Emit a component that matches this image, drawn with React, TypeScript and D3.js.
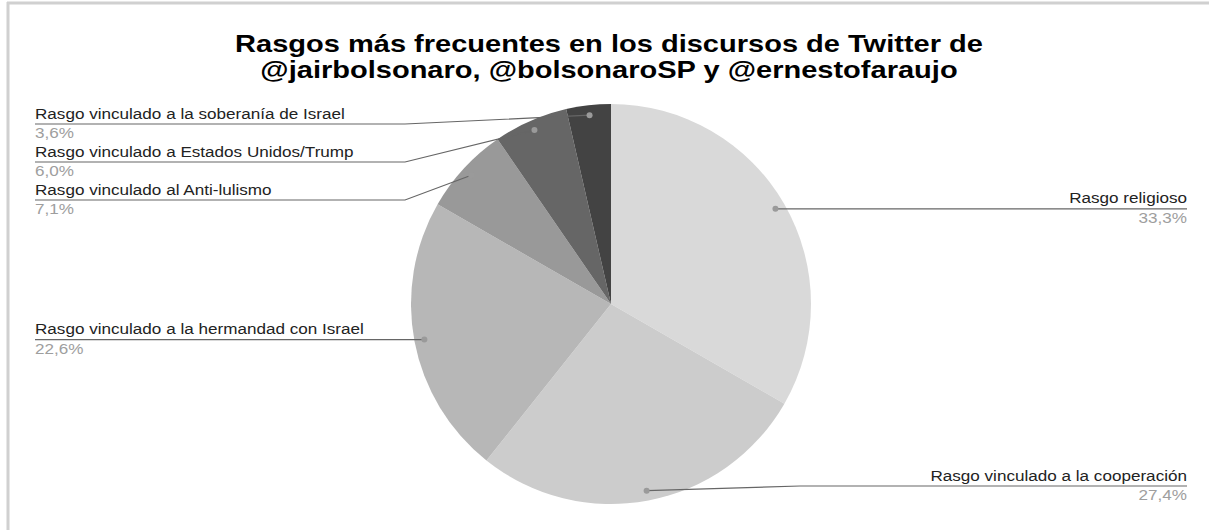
import React from 'react';
import * as d3 from 'd3';

const categories = [
  'Rasgo religioso',
  'Rasgo vinculado a la cooperación',
  'Rasgo vinculado a la hermandad con Israel',
  'Rasgo vinculado al Anti-lulismo',
  'Rasgo vinculado a Estados Unidos/Trump',
  'Rasgo vinculado a la soberanía de Israel',
];
const values = [33.3, 27.4, 22.6, 7.1, 6.0, 3.6];
const percentLabels = ['33,3%', '27,4%', '22,6%', '7,1%', '6,0%', '3,6%'];
const sliceColors = ['#d9d9d9', '#cccccc', '#b7b7b7', '#999999', '#666666', '#434343'];
const titleLines = [
  'Rasgos más frecuentes en los discursos de Twitter de',
  '@jairbolsonaro, @bolsonaroSP y @ernestofaraujo',
];
// layout: y of each label's underline (null = follow the dot)
const labelLineY: (number | null)[] = [null, 486, null, 200, 162, 124];

const W = 1209;
const H = 530;
const cx = 611;
const cy = 304;
const radius = 200;
const dotR = 190;
const leftX = 35;
const rightX = 1187;
const leftElbow = 405;
const rightElbow = 800;
const sx = 1.14;
const font = "'Liberation Sans', Arial, sans-serif";

export default function App() {
  const pie = d3.pie<number>().sort(null).value((d) => d);
  const arcs = pie(values);
  const arcGen = d3.arc<d3.PieArcDatum<number>>().innerRadius(0).outerRadius(radius);

  return (
    <svg
      width={W}
      height={H}
      style={{ position: 'absolute', left: 0, top: 0, background: '#fff' }}
      fontFamily={font}
    >
      <rect x={0} y={0} width={W} height={H} fill="#fff" />
      {/* frame */}
      <line x1={7} x2={W} y1={3} y2={3} stroke="#d0d0d0" strokeWidth={3} />
      <line x1={8} x2={8} y1={2} y2={H} stroke="#d0d0d0" strokeWidth={3} />

      {titleLines.map((t, i) => (
        <text
          key={i}
          transform={`translate(${609},${52 + i * 26}) scale(1.21,1)`}
          textAnchor="middle"
          fontSize={24}
          fontWeight="bold"
          fill="#000"
        >
          {t}
        </text>
      ))}

      <g transform={`translate(${cx},${cy})`}>
        {arcs.map((a, i) => (
          <path key={i} d={arcGen(a) || ''} fill={sliceColors[i]} />
        ))}
      </g>

      {arcs.map((a, i) => {
        const mid = (a.startAngle + a.endAngle) / 2;
        const dx = cx + dotR * Math.sin(mid);
        const dy = cy - dotR * Math.cos(mid);
        const right = Math.sin(mid) > 0;
        const ly = labelLineY[i] ?? dy;
        const elbow = right ? Math.max(rightElbow, dx) : Math.min(leftElbow, dx);
        const endX = right ? rightX : leftX;
        const anchor = right ? 'end' : 'start';
        return (
          <g key={i}>
            <polyline
              points={`${dx},${dy} ${elbow},${ly} ${endX},${ly}`}
              fill="none"
              stroke="#666"
              strokeWidth={1.2}
            />
            <circle cx={dx} cy={dy} r={3} fill="#9a9a9a" />
            <text
              transform={`translate(${endX},${ly - 5.5}) scale(${sx},1)`}
              textAnchor={anchor}
              fontSize={15}
              fill="#222"
            >
              {categories[i]}
            </text>
            <text
              transform={`translate(${endX},${ly + 14}) scale(${sx},1)`}
              textAnchor={anchor}
              fontSize={15}
              fill="#9e9e9e"
            >
              {percentLabels[i]}
            </text>
          </g>
        );
      })}
    </svg>
  );
}
